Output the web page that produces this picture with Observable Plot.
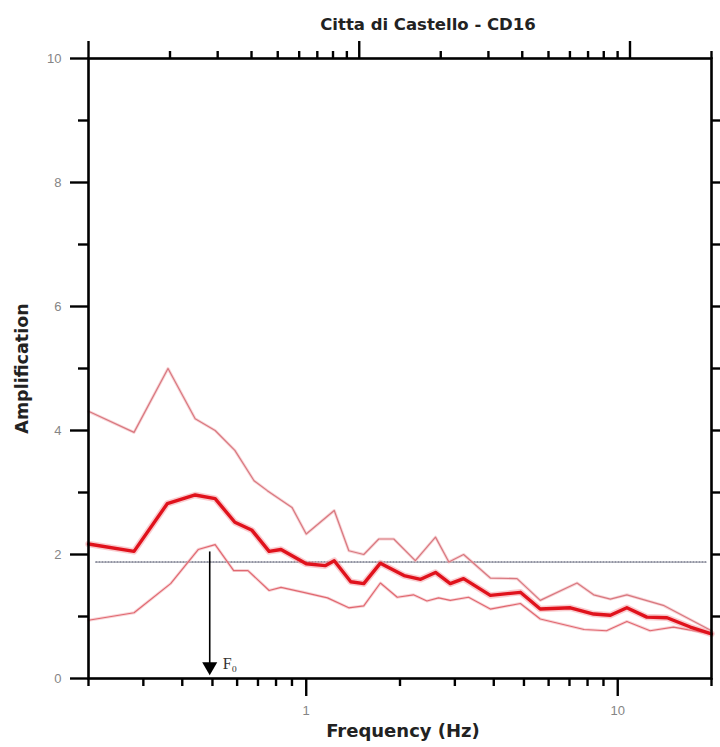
<!DOCTYPE html>
<html><head><meta charset="utf-8">
<script src="https://cdn.jsdelivr.net/npm/d3@7"></script>
<script src="https://cdn.jsdelivr.net/npm/@observablehq/plot@0.6"></script>
<style>body{margin:0;background:#fff;} svg{display:block;}</style>
</head><body><div id="chart"></div>
<script>
const titleText = "Citta di Castello - CD16";
const xLabel = "Frequency (Hz)";
const yLabel = "Amplification";

const meanFreq = [0.2,0.28,0.358,0.44,0.51,0.59,0.67,0.76,0.83,1.0,1.15,1.23,1.39,1.53,1.73,2.06,2.33,2.6,2.9,3.2,3.9,4.87,5.64,7.05,8.37,9.47,10.7,12.4,14.4,17.1,20];
const meanAmp  = [2.17,2.05,2.82,2.96,2.9,2.52,2.39,2.05,2.08,1.85,1.82,1.9,1.56,1.53,1.86,1.66,1.6,1.71,1.53,1.61,1.34,1.39,1.12,1.14,1.04,1.02,1.14,0.99,0.98,0.83,0.72];

const upFreq = [0.2,0.28,0.36,0.44,0.51,0.59,0.68,0.75,0.9,1.0,1.23,1.37,1.53,1.71,1.91,2.24,2.6,2.87,3.2,3.9,4.75,5.64,7.4,8.37,9.47,10.7,14.0,20];
const upAmp  = [4.31,3.97,5.0,4.19,4.0,3.68,3.19,3.03,2.76,2.33,2.71,2.06,2.0,2.25,2.25,1.9,2.28,1.88,2.0,1.62,1.61,1.26,1.54,1.35,1.28,1.35,1.18,0.77];

const loFreq = [0.2,0.28,0.367,0.45,0.51,0.585,0.65,0.76,0.83,0.98,1.17,1.37,1.53,1.73,1.96,2.21,2.44,2.66,2.9,3.32,3.9,4.87,5.64,7.8,9.2,10.7,12.7,15.1,20];
const loAmp  = [0.94,1.06,1.53,2.08,2.16,1.74,1.74,1.42,1.47,1.39,1.3,1.14,1.17,1.54,1.31,1.35,1.25,1.3,1.26,1.31,1.12,1.21,0.96,0.79,0.77,0.92,0.77,0.83,0.72];

const f0 = [0.49];
const f0Level = [1.88];
const levelRange = [0.211, 19.2];

const xMajor = [1, 10];
const xMinor = [0.2,0.3,0.4,0.5,0.6,0.7,0.8,0.9,2,3,4,5,6,7,8,9,20];
const topMajorVals = [0.1, 1, 10];
const topMinorVals = [0.2,0.3,0.4,0.5,0.6,0.7,0.8,0.9,2,3,4,5,6,7,8,9,20];
const yMajor = [0,2,4,6,8,10];
const yMinor = [1,3,5,7,9];
const yRight = [1,2,3,4,5,6,7,8,9];

// top axis of the original uses a [0.1, 20] log scale over the same frame
const topToBottom = v => Math.pow(10, Math.log10(0.2) + (Math.log10(v) + 1) / Math.log10(200) * 2);

const mean = meanFreq.map((f,i)=>({f, a: meanAmp[i]}));
const up = upFreq.map((f,i)=>({f, a: upAmp[i]}));
const lo = loFreq.map((f,i)=>({f, a: loAmp[i]}));
const level = levelRange.map(f => ({f, a: f0Level[0]}));

const font = "'Liberation Sans', Arial, sans-serif";
const boldFont = "'DejaVu Sans', 'Liberation Sans', sans-serif";
const tickW = 2.4;

const chart = Plot.plot({
  width: 720, height: 747,
  marginTop: 58, marginBottom: 69, marginLeft: 88, marginRight: 9,
  x: {type: "log", domain: [0.2, 20]},
  y: {domain: [0, 10]},
  style: {fontFamily: font, background: "#fff"},
  marks: [
    // minor and major ticks
    Plot.axisX({anchor: "bottom", ticks: xMinor, tickSize: 8, tickFormat: () => "", strokeWidth: tickW, label: null}),
    Plot.axisX({anchor: "bottom", ticks: xMajor, tickSize: 18, tickPadding: 9, tickFormat: d => String(d), fontSize: 13, fill: "#858585", stroke: "black", strokeWidth: tickW, label: null}),
    Plot.axisX({anchor: "top", ticks: topMinorVals.map(topToBottom), tickSize: 8, tickFormat: () => "", strokeWidth: tickW, label: null}),
    Plot.axisX({anchor: "top", ticks: topMajorVals.map(topToBottom), tickSize: 18, tickFormat: () => "", strokeWidth: tickW, label: null}),
    Plot.axisY({anchor: "left", ticks: yMinor, tickSize: 10, tickFormat: () => "", strokeWidth: tickW, label: null}),
    Plot.axisY({anchor: "left", ticks: yMajor, tickSize: 18, tickPadding: 9, tickFormat: d => String(d), fontSize: 13, fill: "#858585", stroke: "black", strokeWidth: tickW, label: null}),
    Plot.axisY({anchor: "right", ticks: yRight, tickSize: 8, tickFormat: () => "", strokeWidth: tickW, label: null}),

    // reference level and F0 arrow
    Plot.line(level, {x: "f", y: "a", stroke: "#2a2f4a", strokeWidth: 1.1, strokeDasharray: "1.5,1.5"}),
    Plot.ruleX(f0, {x: d => d, y1: f0Level[0], y2: 0, dy: -10, stroke: "black", strokeWidth: 1.6}),
    Plot.dot(f0, {x: d => d, y: 0, symbol: "triangle", rotate: 180, r: 5.6, fill: "black", stroke: "none", dy: -12}),
    Plot.text(f0, {x: d => d, y: 0, text: () => "F\u2080", dx: 13, dy: -15, textAnchor: "start", fontFamily: "'Liberation Serif', 'DejaVu Serif', serif", fontSize: 16, fill: "#333"}),

    // curves
    Plot.line(up, {x: "f", y: "a", stroke: "#f4b8bc", strokeWidth: 3, strokeOpacity: 0.6}),
    Plot.line(lo, {x: "f", y: "a", stroke: "#f4b8bc", strokeWidth: 3, strokeOpacity: 0.6}),
    Plot.line(up, {x: "f", y: "a", stroke: "#d8787f", strokeWidth: 1.2}),
    Plot.line(lo, {x: "f", y: "a", stroke: "#e06870", strokeWidth: 1.2}),
    Plot.line(mean, {x: "f", y: "a", stroke: "#f39aa0", strokeWidth: 6.5, strokeOpacity: 0.5}),
    Plot.line(mean, {x: "f", y: "a", stroke: "#e0121c", strokeWidth: 3.4}),

    Plot.frame({stroke: "black", strokeWidth: 2.6}),

    // titles
    Plot.text([titleText], {frameAnchor: "top", dy: -40, dx: 28, fontFamily: boldFont, fontSize: 16.5, fontWeight: "bold", fill: "#222"}),
    Plot.text([xLabel], {frameAnchor: "bottom", dy: 58, dx: 3, fontFamily: boldFont, fontSize: 18, fontWeight: "bold", fill: "#222"}),
    Plot.text([yLabel], {frameAnchor: "left", dx: -66, rotate: -90, textAnchor: "middle", fontFamily: boldFont, fontSize: 17.5, fontWeight: "bold", fill: "#222"})
  ]
});
document.getElementById("chart").appendChild(chart);
</script>
</body></html>
